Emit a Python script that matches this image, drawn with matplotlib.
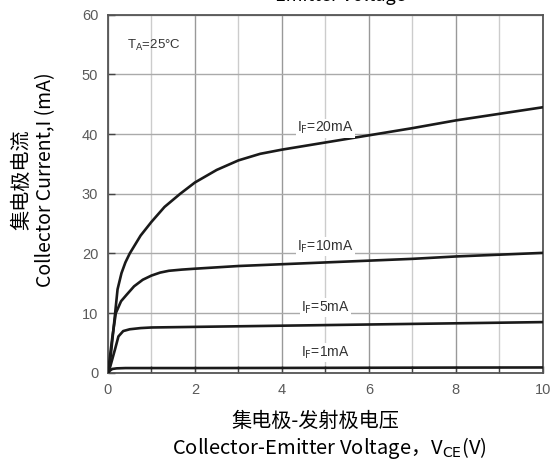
import numpy as np
import matplotlib
matplotlib.use('Agg')
from matplotlib import pyplot as plt

plt.rcParams['font.family'] = ['Noto Sans CJK SC', 'DejaVu Sans']

# Collector-emitter voltage (V) and collector current (mA), one pair per forward current
vce_20ma = [0, 0.05, 0.15, 0.22, 0.31, 0.4, 0.5, 0.75, 1.0, 1.3, 1.66, 2, 2.5, 3, 3.5, 4, 4.5, 5, 6, 7, 8, 9, 10]
ic_20ma = [0, 2, 9, 14, 16.7, 18.5, 20, 23, 25.3, 27.8, 30, 31.9, 34, 35.6, 36.7, 37.4, 38.0, 38.6, 39.8, 41.0, 42.3, 43.4, 44.5]

vce_10ma = [0, 0.1, 0.18, 0.3, 0.43, 0.6, 0.8, 1.0, 1.2, 1.4, 1.7, 2, 3, 4, 5, 6, 7, 8, 9, 10]
ic_10ma = [0, 6, 10, 12, 13.1, 14.5, 15.6, 16.3, 16.8, 17.1, 17.3, 17.45, 17.9, 18.2, 18.5, 18.8, 19.1, 19.5, 19.8, 20.1]

vce_5ma = [0, 0.05, 0.16, 0.24, 0.35, 0.5, 0.75, 1, 1.5, 2, 3, 4, 5, 6, 7, 8, 9, 10]
ic_5ma = [0, 1, 3.9, 6.1, 7.0, 7.3, 7.5, 7.6, 7.65, 7.7, 7.8, 7.9, 8.0, 8.1, 8.2, 8.3, 8.4, 8.5]

vce_1ma = [0, 0.05, 0.1, 0.2, 0.4, 1, 2, 4, 6, 8, 10]
ic_1ma = [0, 0.4, 0.65, 0.75, 0.8, 0.8, 0.8, 0.82, 0.85, 0.88, 0.9]

curve_labels = ['=20mA', '=10mA', '=5mA', '=1mA']
label_pos = [(5.0, 41.0), (5.0, 21.2), (5.0, 10.9), (5.0, 3.35)]

x_ticks = [0, 2, 4, 6, 8, 10]
y_ticks = [0, 10, 20, 30, 40, 50, 60]

fig = plt.figure(figsize=(5.51, 4.62), dpi=100)
ax = fig.add_axes([0.196, 0.193, 0.789, 0.775])

tick_font = {'family': 'Liberation Sans', 'size': 10.5, 'color': '#5a5a5a'}

# grid: every volt, darker on the labelled ones
for xv in range(0, 11):
    ax.axvline(xv, color='#999999' if xv % 2 == 0 else '#cccccc', lw=1.0, zorder=0)
for yv in y_ticks:
    ax.axhline(yv, color='#aaaaaa', lw=1.0, zorder=0)

series = [(vce_20ma, ic_20ma), (vce_10ma, ic_10ma), (vce_5ma, ic_5ma), (vce_1ma, ic_1ma)]
for v, ic in series:
    ax.plot(v, ic, color='#1a1a1a', lw=1.9, zorder=3,
            solid_joinstyle='round', solid_capstyle='round')

for txt, (lx, ly) in zip(curve_labels, label_pos):
    ax.text(lx, ly, r'I$_{\rm F}$' + txt, family='Liberation Sans', fontsize=10,
            color='#333333', ha='center', va='center',
            bbox=dict(facecolor='white', edgecolor='none', pad=1), zorder=4)

ax.text(1.06, 54.8, r'T$_{\rm A}$=25°C', family='Liberation Sans', fontsize=9.5,
        color='#333333', ha='center', va='center')

ax.set_xlim(0, 10)
ax.set_ylim(0, 60)
ax.set_xticks(x_ticks)
ax.set_yticks(y_ticks)
ax.set_xticks(range(0, 11), minor=True)
ax.set_xticklabels([str(v) for v in x_ticks], fontdict=tick_font)
ax.set_yticklabels([str(v) for v in y_ticks], fontdict=tick_font)
ax.tick_params(direction='in', length=5, width=1, color='#444444', pad=7)
ax.tick_params(which='minor', direction='in', length=5, width=1, color='#444444')
for s in ax.spines.values():
    s.set_color('#555555')
    s.set_linewidth(1.3)

fig.text(0.040, 0.61, '集电极电流', rotation=90, ha='center', va='center', fontsize=14.5)
fig.text(0.082, 0.61, 'Collector Current,I (mA)', rotation=90, ha='center', va='center', fontsize=14)
fig.text(0.572, 0.087, '集电极-发射极电压', ha='center', va='center', fontsize=14.5)
fig.text(0.598, 0.030, 'Collector-Emitter Voltage，V$_{\\rm CE}$(V)', ha='center', va='center', fontsize=14.5)
fig.text(0.617, 1.008, 'Emitter Voltage', ha='center', va='center', fontsize=13)

fig.savefig('out.png', dpi=100)
